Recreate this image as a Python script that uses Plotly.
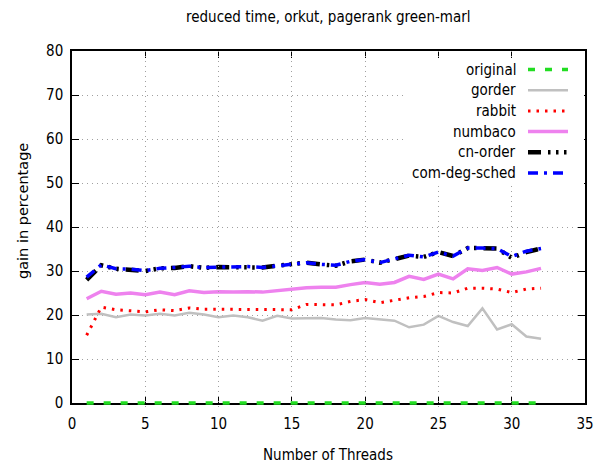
import plotly.graph_objects as go

threads = list(range(1, 33))
original = [0.0] * 32
gorder = [20.1, 20.3, 19.5, 20.1, 19.9, 20.3, 19.9, 20.5, 20.1, 19.5, 19.9, 19.5, 18.7, 19.8, 19.2, 19.3,
          19.3, 19.0, 18.8, 19.3, 19.0, 18.7, 17.2, 17.8, 19.8, 18.4, 17.5, 21.5, 16.7, 17.9, 15.1, 14.6]
rabbit = [15.4, 21.8, 21.2, 21.0, 20.7, 21.2, 21.0, 21.6, 21.3, 21.3, 21.3, 21.3, 21.3, 21.3, 21.2, 22.4,
          22.3, 22.3, 23.1, 23.5, 22.8, 23.3, 23.9, 24.2, 25.1, 25.0, 26.1, 26.1, 25.9, 25.1, 25.9, 26.1]
numbaco = [23.7, 25.4, 24.7, 25.0, 24.6, 25.2, 24.6, 25.5, 25.1, 25.3, 25.2, 25.3, 25.2, 25.6, 25.9, 26.2,
           26.3, 26.3, 26.9, 27.4, 27.0, 27.4, 28.8, 28.1, 29.3, 28.2, 30.5, 30.1, 30.8, 29.3, 29.8, 30.6]
cn_order = [28.0, 31.3, 30.5, 30.3, 30.0, 30.6, 30.7, 31.1, 30.7, 30.9, 30.9, 30.9, 30.8, 31.2, 31.6, 31.9,
            31.5, 31.2, 32.2, 32.6, 31.9, 32.7, 33.5, 33.2, 34.3, 33.4, 35.2, 35.2, 35.1, 33.0, 34.3, 35.1]
com_deg_sched = [28.6, 31.4, 30.5, 30.4, 30.1, 30.6, 30.8, 31.1, 30.8, 30.9, 30.9, 31.0, 30.8, 31.2, 31.7, 31.9,
                 31.5, 31.3, 32.2, 32.6, 31.9, 32.8, 33.6, 33.2, 34.3, 33.4, 35.2, 35.2, 35.1, 33.3, 34.5, 35.1]
x_ticks = [0, 5, 10, 15, 20, 25, 30, 35]
y_ticks = [0, 10, 20, 30, 40, 50, 60, 70, 80]

series_names = ["original", "gorder", "rabbit", "numbaco", "cn-order", "com-deg-sched"]
series_vals = [original, gorder, rabbit, numbaco, cn_order, com_deg_sched]
styles = [
    dict(color="#22dd22", width=3.5, dash="7px,10px"),
    dict(color="#c0c0c0", width=2.5, dash="solid"),
    dict(color="#ff0000", width=3, dash="2.5px,6px"),
    dict(color="#ee82ee", width=3.5, dash="solid"),
    dict(color="#000000", width=4.5, dash="13px,7px,2.5px,5.5px,2.5px,5.5px,2.5px,7px"),
    dict(color="#0000ff", width=3.5, dash="10px,6px,3px,6px"),
]

W, H = 605, 468
L, R, T, B = 72, 585, 51, 403
EXT = 5                      # extra pixels below the x axis so the y=0 line is not clipped
PB = B + EXT
Y0, Y1 = 0, 80
ppu = (B - T) / (Y1 - Y0)

def px_x(p):
    return (p - L) / (R - L)

def px_y(p):
    return (PB - p) / (PB - T)

FONT = "DejaVu Sans Condensed, DejaVu Sans, sans-serif"
FS = 15

fig = go.Figure()
for name, vals, st in zip(series_names, series_vals, styles):
    fig.add_trace(go.Scatter(x=threads, y=vals, mode="lines", name=name,
                             xaxis="x", yaxis="y2" if name == "original" else "y",
                             line=dict(color=st["color"], width=st["width"], dash=st["dash"]),
                             showlegend=False))

# custom gnuplot-style key (text left of sample)
shapes = [dict(type="rect", xref="paper", yref="paper", x0=px_x(405), x1=px_x(584),
               y0=px_y(184), y1=px_y(58), fillcolor="white", line=dict(width=0), layer="above")]
annotations = []
row0, step = 69.5, 20.7
for i, (name, st) in enumerate(zip(series_names, styles)):
    yy = px_y(row0 + i * step)
    shapes.append(dict(type="line", xref="paper", yref="paper", x0=px_x(528), x1=px_x(568),
                       y0=yy, y1=yy, layer="above",
                       line=dict(color=st["color"], width=st["width"], dash=st["dash"])))
    annotations.append(dict(text=name, xref="paper", yref="paper", x=px_x(518), y=yy,
                            xanchor="right", yanchor="middle", showarrow=False,
                            font=dict(family=FONT, size=FS, color="black")))

annotations.append(dict(text="reduced time, orkut, pagerank green-marl", xref="paper", yref="paper",
                        x=px_x(328), y=px_y(17), xanchor="center", yanchor="middle", showarrow=False,
                        font=dict(family=FONT, size=FS, color="black")))
annotations.append(dict(text="Number of Threads", xref="paper", yref="paper",
                        x=px_x(328), y=px_y(455), xanchor="center", yanchor="middle", showarrow=False,
                        font=dict(family=FONT, size=FS, color="black")))
annotations.append(dict(text="gain in percentage", xref="paper", yref="paper", textangle=-90,
                        x=px_x(23), y=px_y(211), xanchor="center", yanchor="middle", showarrow=False,
                        font=dict(family="DejaVu Sans, sans-serif", size=14.5, color="black")))

axis_common = dict(showline=True, linecolor="black", linewidth=1.5, mirror="ticks",
                   ticks="inside", ticklen=7, tickwidth=1, tickcolor="black",
                   showgrid=True, gridcolor="#a0a0a0", gridwidth=1, griddash="1px,4px",
                   zeroline=False, tickfont=dict(family=FONT, size=FS, color="black"))

fig.update_layout(
    width=W, height=H,
    margin=dict(l=L, r=W - R, t=T, b=H - PB),
    paper_bgcolor="white", plot_bgcolor="rgba(0,0,0,0)",
    showlegend=False,
    xaxis=dict(range=[0, 35], tickvals=x_ticks, ticklabelstandoff=6, anchor="y", **axis_common),
    yaxis=dict(range=[Y0, Y1], tickvals=y_ticks, domain=[EXT / (PB - T), 1],
               ticklabelstandoff=4, anchor="x", **axis_common),
    yaxis2=dict(range=[Y0 - EXT / ppu, Y1], domain=[0, 1], visible=False, anchor="x",
                showgrid=False, zeroline=False),
    shapes=shapes, annotations=annotations,
)

fig.write_html("out.html", config={"displayModeBar": False},
               post_script="document.body.style.margin='0';document.body.style.overflow='hidden';")
